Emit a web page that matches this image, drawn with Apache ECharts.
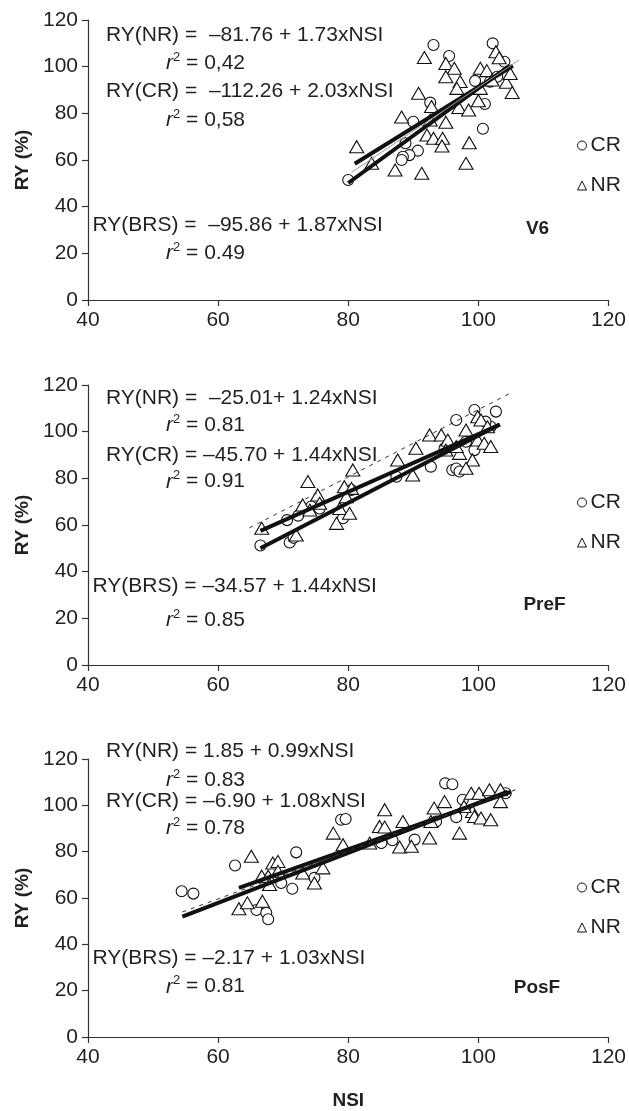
<!DOCTYPE html>
<html>
<head>
<meta charset="utf-8">
<script src="https://cdn.jsdelivr.net/npm/echarts@6/dist/echarts.min.js"></script>
<style>
  html, body { margin: 0; padding: 0; background: #fff; }
  #chart { width: 629px; height: 1111px; }
</style>
</head>
<body>
<div id="chart"></div>
<script>
// Sampling stages, one panel each
const panelNames = ['V6', 'PreF', 'PosF'];

// Observed points [NSI, RY %] — CR (circles) and NR (triangles)
const v6CR = [[93.1,109.3],[102.2,110],[95.5,104.6],[104.0,102.1],[99.5,93.9],[101.8,93.6],[102.9,95.7],[92.6,84.6],[101.0,84.0],[90.0,76.4],[100.7,73.4],[88.8,67.2],[90.7,64.0],[89.4,62.1],[88.4,61.4],[88.2,60.0],[80.0,51.4]];
const v6NR = [[91.7,103.9],[95.0,101.4],[96.3,99.3],[102.7,106.4],[103.2,103.8],[100.3,99.3],[101.3,98.3],[95.0,95.7],[97.2,93.6],[96.7,90.7],[100.3,90.7],[104.3,93.3],[104.9,97.1],[105.2,88.9],[90.8,88.6],[92.8,82.9],[97.0,82.5],[98.5,81.4],[100.0,85.4],[88.2,78.4],[95.0,76.2],[92.6,77.1],[92.1,70.7],[93.1,69.3],[94.5,69.3],[94.4,66.0],[98.6,67.4],[81.3,65.7],[83.6,58.6],[87.2,55.7],[91.3,54.3],[98.1,58.6],[102.1,94.3]];
const prefCR = [[66.5,51.2],[71.0,52.5],[71.6,54.5],[70.6,62.1],[72.3,64.0],[74.3,67.9],[75.6,67.1],[79.2,62.9],[80.5,75.0],[87.4,80.7],[92.7,85.0],[96.0,83.6],[96.6,84.2],[97.1,82.9],[99.4,92.1],[98.1,95.7],[96.6,105.0],[99.4,109.3],[102.7,108.6],[101.9,102.1],[101.1,104.3],[94.8,92.9]];
const prefNR = [[66.7,58.6],[72.0,55.7],[73.8,78.6],[75.3,72.9],[73.0,68.6],[74.1,66.4],[75.6,69.3],[79.4,76.4],[78.7,67.1],[80.2,65.0],[80.7,83.6],[80.5,75.7],[79.7,72.1],[78.2,60.7],[87.6,87.9],[89.9,81.4],[90.4,92.9],[92.5,98.6],[94.3,98.6],[95.3,96.4],[95.0,92.1],[97.1,90.7],[99.1,87.9],[98.1,84.3],[98.1,100.7],[99.9,106.4],[100.4,105.0],[99.9,96.4],[100.9,95.0],[101.9,93.6],[96.6,93.6],[101.4,102.1]];
const posfCR = [[54.4,62.9],[56.2,61.9],[62.6,74.0],[72.0,79.7],[65.9,54.8],[67.4,53.6],[67.7,50.8],[69.7,66.5],[71.4,64.0],[74.8,68.7],[78.9,93.8],[79.6,94.1],[85.1,83.7],[86.8,84.9],[90.2,85.2],[93.5,93.0],[94.9,109.5],[96.0,109.1],[96.6,94.9],[97.6,102.4],[104.2,105.2]];
const posfNR = [[63.2,55.4],[64.5,57.9],[66.8,58.6],[65.1,78.0],[68.4,75.1],[69.2,75.8],[66.7,69.4],[67.7,69.4],[67.9,65.8],[69.2,71.5],[73.0,70.8],[74.8,66.5],[76.1,73.0],[77.7,88.0],[79.2,83.0],[83.3,83.7],[84.8,90.9],[85.6,90.6],[85.6,98.1],[87.9,82.0],[89.7,82.3],[88.4,93.0],[92.5,85.9],[92.7,93.0],[93.2,98.8],[94.8,101.6],[97.1,88.0],[98.9,105.2],[100.1,105.2],[101.7,106.7],[103.4,106.7],[99.1,97.3],[99.4,95.2],[100.4,94.5],[101.9,93.8],[103.4,101.6],[97.8,99.5]];

// Linear fits RY = a + b·NSI and the NSI span each fit is drawn over
const nrIntercept  = [-81.76, -25.01, 1.85];
const nrSlope      = [1.73, 1.24, 0.99];
const crIntercept  = [-112.26, -45.70, -6.90];
const crSlope      = [2.03, 1.44, 1.08];
const brsIntercept = [-95.86, -34.57, -2.17];
const brsSlope     = [1.87, 1.44, 1.03];
const nrSpan  = [[81.0, 105.3], [66.5, 103.3], [63.2, 105.0]];
const crSpan  = [[80.0, 104.8], [66.5, 103.3], [54.5, 104.5]];
const brsSpan = [[80.5, 106.3], [64.8, 104.8], [54.5, 106.0]];

// Equation labels
const nrEq  = ['RY(NR) =  \u201381.76 + 1.73xNSI', 'RY(NR) =  \u201325.01+ 1.24xNSI', 'RY(NR) = 1.85 + 0.99xNSI'];
const crEq  = ['RY(CR) =  \u2013112.26 + 2.03xNSI', 'RY(CR) = \u201345.70 + 1.44xNSI', 'RY(CR) = \u20136.90 + 1.08xNSI'];
const brsEq = ['RY(BRS) =  \u201395.86 + 1.87xNSI', 'RY(BRS) = \u201334.57 + 1.44xNSI', 'RY(BRS) = \u20132.17 + 1.03xNSI'];
const nrR2  = ['0,42', '0.81', '0.83'];
const crR2  = ['0,58', '0.91', '0.78'];
const brsR2 = ['0.49', '0.85', '0.81'];

// Axis ranges
const xRange = [40, 120], xStep = 20;
const yRange = [0, 120], yStep = 20;

const crSets = [v6CR, prefCR, posfCR];
const nrSets = [v6NR, prefNR, posfNR];

// ---- layout ----
const FONT = '"Liberation Sans", Arial, Helvetica, sans-serif';
const INK = '#231f20';
const TXT = 21;
const gridTop = [20, 385, 759];
const gridHeight = [280, 280, 279];
const textRows = [
  [35.7, 63.3, 91.7, 120, 225, 253.3],
  [398.3, 425, 455, 481.7, 586.7, 620],
  [751.7, 780, 801.7, 828.3, 958.3, 986.7]
];
const legendTop = [129, 486, 871];
const tagPos = [[537.5, 229], [544.5, 605], [537, 988]];

function fitLine(a, b, span) {
  return span.map(x => [x, +(a + b * x).toFixed(3)]);
}

const grids = [], xAxes = [], yAxes = [], series = [], graphics = [], legends = [];

function eqText(x, y, s) {
  return { type: 'text', x: x, y: y, z: 100,
    style: { text: s, font: TXT + 'px ' + FONT, fill: INK, verticalAlign: 'middle' } };
}
function r2Text(x, y, v) {
  return { type: 'text', x: x, y: y, z: 100,
    style: {
      text: '{i|r}{s|2}{n| = ' + v + '}', verticalAlign: 'middle', fill: INK,
      rich: {
        i: { fontFamily: FONT, fontSize: TXT, fontStyle: 'italic', lineHeight: 25, fill: INK },
        s: { fontFamily: FONT, fontSize: 13, lineHeight: 13, verticalAlign: 'top', fill: INK },
        n: { fontFamily: FONT, fontSize: TXT, lineHeight: 25, fill: INK }
      }
    } };
}

for (let p = 0; p < 3; p++) {
  grids.push({ left: 88, right: 19, top: gridTop[p], height: gridHeight[p] });
  xAxes.push({
    type: 'value', gridIndex: p, min: xRange[0], max: xRange[1], interval: xStep,
    name: p === 2 ? 'NSI' : '', nameLocation: 'middle', nameGap: 54,
    nameTextStyle: { fontFamily: FONT, fontSize: 19, fontWeight: 'bold', color: INK },
    axisLine: { show: true, onZero: false, lineStyle: { color: '#333', width: 1.2 } },
    axisTick: { show: true, inside: false, length: 6, lineStyle: { color: '#333', width: 1.2 } },
    axisLabel: { fontFamily: FONT, fontSize: TXT, color: INK, margin: 10 },
    splitLine: { show: false }
  });
  yAxes.push({
    type: 'value', gridIndex: p, min: yRange[0], max: yRange[1], interval: yStep,
    name: 'RY (%)', nameLocation: 'middle', nameGap: 54,
    nameTextStyle: { fontFamily: FONT, fontSize: 19, fontWeight: 'bold', color: INK },
    axisLine: { show: true, lineStyle: { color: '#333', width: 1.2 } },
    axisTick: { show: true, inside: false, length: 6, lineStyle: { color: '#333', width: 1.2 } },
    axisLabel: { fontFamily: FONT, fontSize: TXT, color: INK, margin: 10 },
    splitLine: { show: false }
  });

  series.push({
    name: 'CR', type: 'scatter', xAxisIndex: p, yAxisIndex: p, data: crSets[p],
    symbol: 'circle', symbolSize: 11, z: 3,
    itemStyle: { color: '#fff', borderColor: '#111', borderWidth: 1.1, opacity: 1 }
  });
  series.push({
    name: 'NR', type: 'scatter', xAxisIndex: p, yAxisIndex: p, data: nrSets[p],
    symbol: 'triangle', symbolSize: [14, 12], z: 3,
    itemStyle: { color: '#fff', borderColor: '#111', borderWidth: 1.1, opacity: 1 }
  });
  const fitStyle = { color: '#111', width: 4 };
  series.push({
    name: 'fit NR', type: 'line', xAxisIndex: p, yAxisIndex: p, showSymbol: false, symbol: 'none',
    data: fitLine(nrIntercept[p], nrSlope[p], nrSpan[p]), lineStyle: fitStyle, z: 5, silent: true
  });
  series.push({
    name: 'fit CR', type: 'line', xAxisIndex: p, yAxisIndex: p, showSymbol: false, symbol: 'none',
    data: fitLine(crIntercept[p], crSlope[p], crSpan[p]), lineStyle: fitStyle, z: 5, silent: true
  });
  series.push({
    name: 'fit BRS', type: 'line', xAxisIndex: p, yAxisIndex: p, showSymbol: false, symbol: 'none',
    data: fitLine(brsIntercept[p], brsSlope[p], brsSpan[p]),
    lineStyle: p === 0 ? { color: '#9a9a9a', width: 1 } : { color: '#333', width: 1, type: [4, 5] },
    z: 6, silent: true
  });

  const r = textRows[p];
  graphics.push(eqText(106, r[0], nrEq[p]));
  graphics.push(r2Text(166, r[1], nrR2[p]));
  graphics.push(eqText(106, r[2], crEq[p]));
  graphics.push(r2Text(166, r[3], crR2[p]));
  graphics.push(eqText(92.5, r[4], brsEq[p]));
  graphics.push(r2Text(166, r[5], brsR2[p]));
  graphics.push({ type: 'text', x: tagPos[p][0], y: tagPos[p][1], z: 100,
    style: { text: panelNames[p], font: 'bold 19px ' + FONT, fill: INK, align: 'center', verticalAlign: 'middle' } });

  legends.push({
    show: true, orient: 'vertical', left: 572, top: legendTop[p], itemGap: 17,
    itemWidth: 9, itemHeight: 9, selectedMode: false,
    textStyle: { fontFamily: FONT, fontSize: TXT, color: INK, lineHeight: 23, padding: [0, 0, 0, -1] },
    data: [
      { name: 'CR', icon: 'circle', itemStyle: { color: '#fff', borderColor: '#111', borderWidth: 1 } },
      { name: 'NR', icon: 'triangle', itemStyle: { color: '#fff', borderColor: '#111', borderWidth: 1 } }
    ]
  });
}

const chart = echarts.init(document.getElementById('chart'), null, { renderer: 'canvas' });
chart.setOption({
  animation: false,
  backgroundColor: '#fff',
  grid: grids,
  xAxis: xAxes,
  yAxis: yAxes,
  legend: legends,
  series: series,
  graphic: graphics
});
</script>
</body>
</html>
